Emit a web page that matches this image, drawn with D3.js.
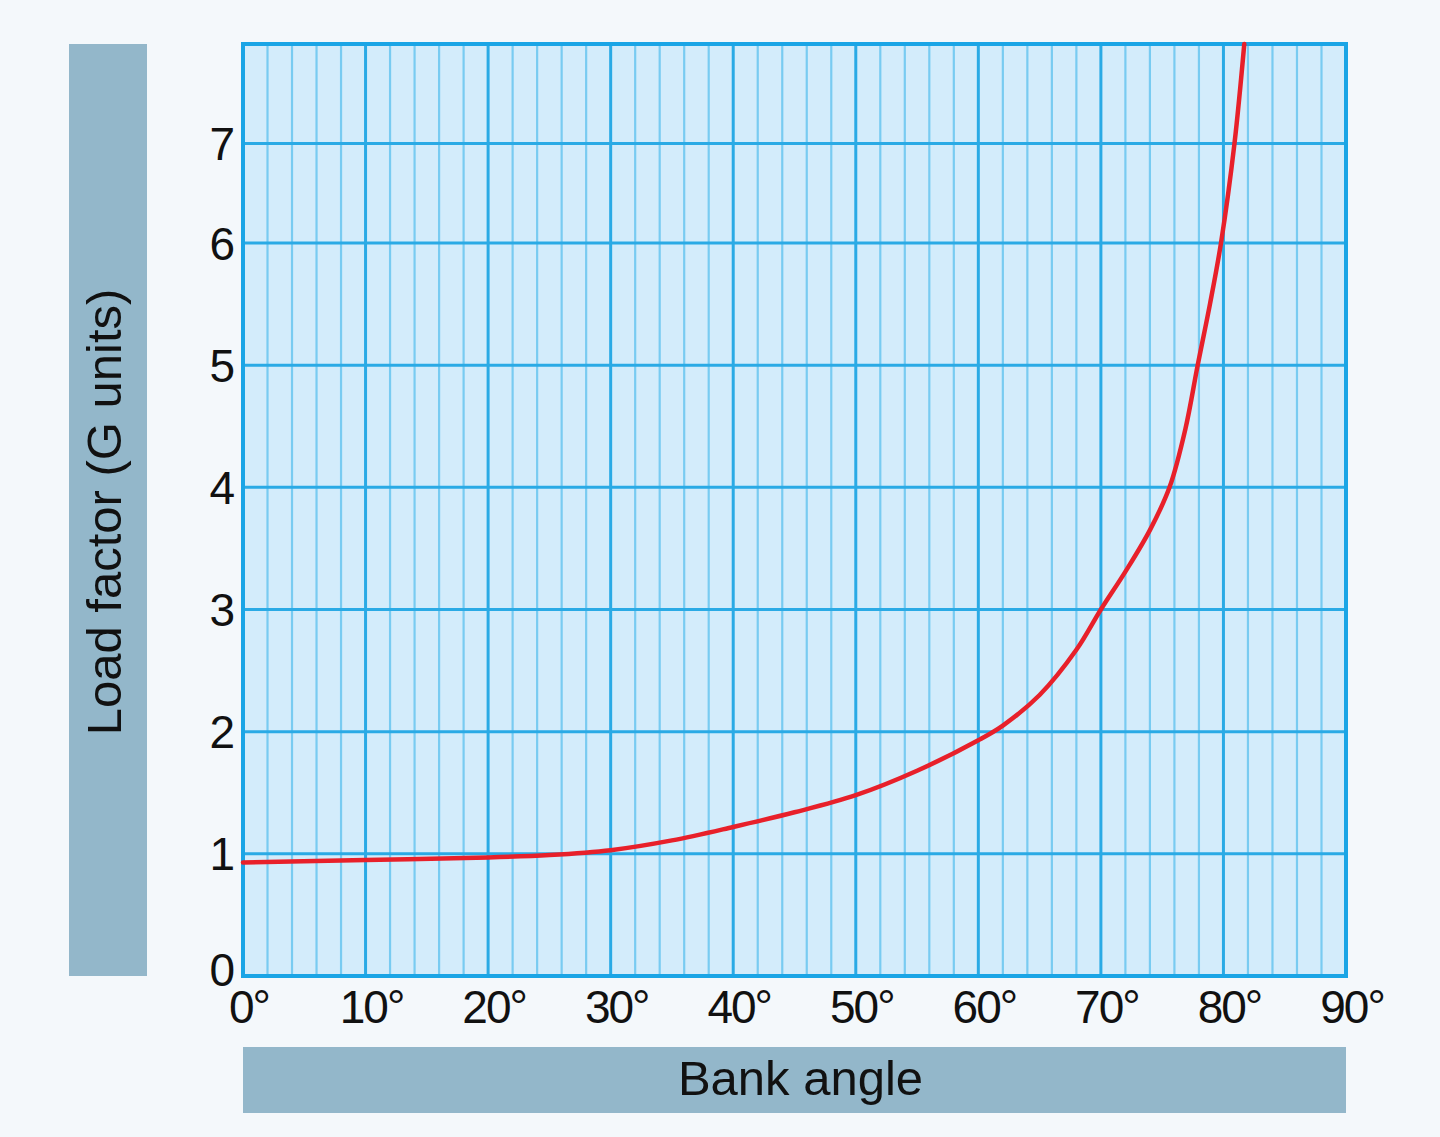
<!DOCTYPE html>
<html>
<head>
<meta charset="utf-8">
<script src="https://cdn.jsdelivr.net/npm/d3@7"></script>
<style>
  html, body { margin: 0; padding: 0; background: #f4f8fb; }
  svg { display: block; }
</style>
</head>
<body>
<svg id="chart"></svg>
<script>
// bank angle (deg) vs load factor (G)
const bankAngles = [0, 10, 20, 25, 30, 35, 40, 45, 50, 55, 60, 62, 65, 68, 70, 72, 74, 75.6, 76.9, 77.9, 78.9, 79.8, 80.9, 81.7];
const loadFactors = [0.93, 0.95, 0.97, 0.99, 1.03, 1.11, 1.22, 1.34, 1.48, 1.68, 1.93, 2.05, 2.3, 2.67, 3.0, 3.31, 3.65, 4.0, 4.48, 5.0, 5.5, 6.0, 7.0, 8.0];
const xTicks = [0, 10, 20, 30, 40, 50, 60, 70, 80, 90];
const yTicks = [0, 1, 2, 3, 4, 5, 6, 7];
const xTitle = "Bank angle";
const yTitle = "Load factor (G units)";

(function loadFactorChart() {
  const width = 1440;
  const height = 1137;
  const left = 243, right = 1346, top = 44, bottom = 976;
  const font = "'Liberation Sans', Arial, Helvetica, sans-serif";

  const data = bankAngles.map((a, i) => ({ angle: a, g: loadFactors[i] }));

  const x = d3.scaleLinear().domain([0, 90]).range([left, right]);
  // the printed grid squeezes the top two units a bit
  const y = d3.scaleLinear().domain([0, 6, 8]).range([bottom, 243, top]);

  const svg = d3.select("#chart").attr("width", width).attr("height", height);

  svg.append("rect")
    .attr("width", width)
    .attr("height", height)
    .attr("fill", "#f4f8fb");

  // grey title boxes
  svg.append("rect")
    .attr("x", 69).attr("y", top)
    .attr("width", 78).attr("height", bottom - top)
    .attr("fill", "#93b7ca");

  svg.append("rect")
    .attr("x", left).attr("y", 1047)
    .attr("width", right - left).attr("height", 66)
    .attr("fill", "#93b7ca");

  // plot background
  svg.append("rect")
    .attr("x", left).attr("y", top)
    .attr("width", right - left).attr("height", bottom - top)
    .attr("fill", "#d3ecfb");

  const grid = svg.append("g");

  // vertical lines every 2 degrees, heavier every 10
  grid.selectAll("line.v")
    .data(d3.range(2, 90, 2))
    .join("line")
    .attr("class", "v")
    .attr("x1", x).attr("x2", x)
    .attr("y1", top).attr("y2", bottom)
    .style("stroke", (d) => (d % 10 === 0 ? "#2aaae5" : "#78cbf1"))
    .style("stroke-width", (d) => (d % 10 === 0 ? 3 : 2.2));

  grid.selectAll("line.h")
    .data(yTicks.filter((d) => d > 0))
    .join("line")
    .attr("class", "h")
    .attr("x1", left).attr("x2", right)
    .attr("y1", y).attr("y2", y)
    .style("stroke", "#2aaae5")
    .style("stroke-width", 3);

  svg.append("rect")
    .attr("x", left).attr("y", top)
    .attr("width", right - left).attr("height", bottom - top)
    .attr("fill", "none")
    .style("stroke", "#1aa5e6")
    .style("stroke-width", 4);

  const line = d3.line()
    .x((d) => x(d.angle))
    .y((d) => y(d.g))
    .curve(d3.curveCatmullRom.alpha(0.5));

  svg.append("path")
    .datum(data)
    .attr("d", line)
    .attr("fill", "none")
    .style("stroke", "#e8202a")
    .style("stroke-width", 4.5)
    .style("stroke-linecap", "round");

  // tick labels
  svg.append("g")
    .style("font-family", font)
    .style("font-size", "46px")
    .style("fill", "#111")
    .attr("text-anchor", "end")
    .selectAll("text")
    .data(yTicks)
    .join("text")
    .attr("x", 234)
    .attr("y", (d) => y(d) - (d === 0 ? 7 : 0))
    .attr("dy", "0.36em")
    .style("letter-spacing", "-1px")
    .text((d) => d);

  svg.append("g")
    .style("font-family", font)
    .style("font-size", "46px")
    .style("fill", "#111")
    .attr("text-anchor", "middle")
    .selectAll("text")
    .data(xTicks)
    .join("text")
    .attr("x", (d) => x(d) + 6)
    .attr("y", 1023)
    .style("letter-spacing", "-2px")
    .text((d) => `${d}°`);

  // axis titles
  svg.append("text")
    .attr("transform", `translate(121, ${(top + bottom) / 2 + 2}) rotate(-90)`)
    .attr("text-anchor", "middle")
    .style("font-family", font)
    .style("font-size", "49px")
    .style("fill", "#111")
    .text(yTitle);

  svg.append("text")
    .attr("x", (left + right) / 2 + 6)
    .attr("y", 1095)
    .attr("text-anchor", "middle")
    .style("font-family", font)
    .style("font-size", "49px")
    .style("fill", "#111")
    .text(xTitle);
})();
</script>
</body>
</html>
